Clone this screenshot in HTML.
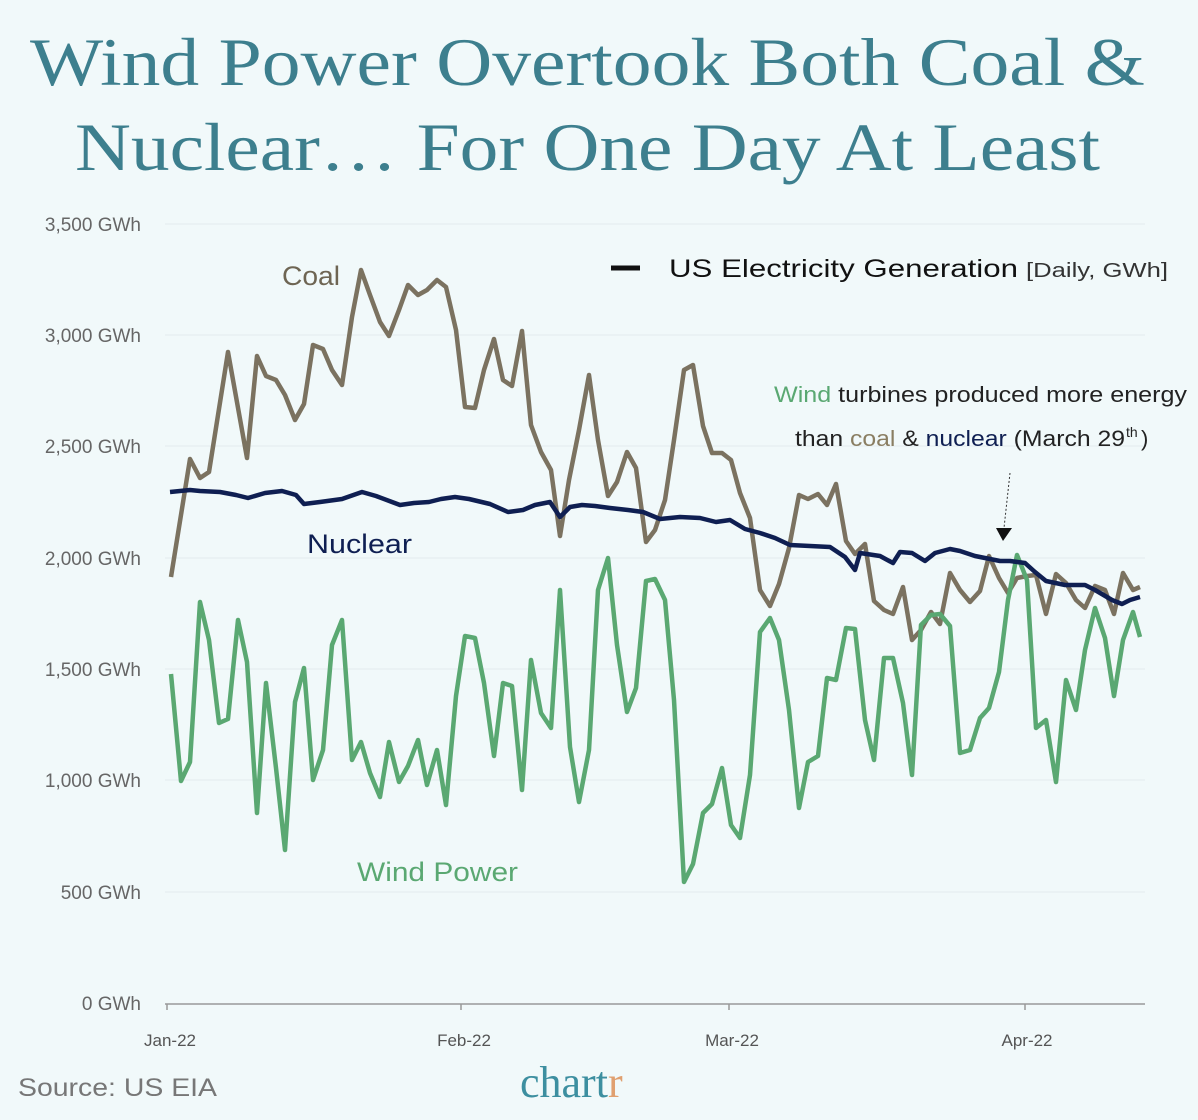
<!DOCTYPE html>
<html><head><meta charset="utf-8"><style>body{margin:0;background:#f1f9fa}svg{display:block}</style></head><body>
<svg width="1198" height="1120" xmlns="http://www.w3.org/2000/svg" font-family="Liberation Sans, sans-serif">
<rect width="1198" height="1120" fill="#f1f9fa"/>
<g font-family="Liberation Serif, serif" fill="#3d7f8e" font-size="68">
<text x="30" y="85" textLength="1115" lengthAdjust="spacingAndGlyphs">Wind Power Overtook Both Coal &amp;</text>
<text x="75" y="170" textLength="1025" lengthAdjust="spacingAndGlyphs">Nuclear… For One Day At Least</text>
</g>
<g stroke="#e3ecee" stroke-width="1">
<line x1="165" x2="1145" y1="224" y2="224"/><line x1="165" x2="1145" y1="335" y2="335"/><line x1="165" x2="1145" y1="446" y2="446"/><line x1="165" x2="1145" y1="558" y2="558"/><line x1="165" x2="1145" y1="669" y2="669"/><line x1="165" x2="1145" y1="780" y2="780"/><line x1="165" x2="1145" y1="892" y2="892"/>
</g>
<line x1="165" x2="1145" y1="1004" y2="1004" stroke="#999" stroke-width="1.5"/>
<g stroke="#999" stroke-width="1.5"><line x1="167" x2="167" y1="1004" y2="1010"/><line x1="461" x2="461" y1="1004" y2="1010"/><line x1="729" x2="729" y1="1004" y2="1010"/><line x1="1025" x2="1025" y1="1004" y2="1010"/></g>
<g fill="#666" font-size="19" text-anchor="end">
<text x="141" y="231">3,500 GWh</text><text x="141" y="342">3,000 GWh</text><text x="141" y="453">2,500 GWh</text><text x="141" y="565">2,000 GWh</text><text x="141" y="676">1,500 GWh</text><text x="141" y="787">1,000 GWh</text><text x="141" y="899">500 GWh</text><text x="141" y="1010">0 GWh</text>
</g>
<g fill="#555" font-size="17" text-anchor="middle"><text x="170" y="1046">Jan-22</text><text x="464" y="1046">Feb-22</text><text x="732" y="1046">Mar-22</text><text x="1027" y="1046">Apr-22</text></g>
<g fill="none" stroke-width="4.5" stroke-linejoin="round">
<polyline stroke="#7b7260" points="171,577 190,459 200,478 209,472 228,352 247,458 257,356 266,376 276,380 285,395 295,420 304,404 313,345 323,349 332,370 342,385 352,317 361,270 370,295 380,322 389,336 399,310 408,285 418,295 427,290 437,280 446,287 456,330 465,407 475,408 484,370 494,339 503,380 512,386 522,331 531,425 541,452 551,470 560,536 569,480 579,430 589,375 598,440 608,496 617,482 627,452 636,468 646,542 655,530 665,500 674,440 684,370 693,365 703,426 712,453 722,453 731,460 740,493 750,518 760,590 770,606 779,584 789,548 799,495 808,499 818,494 827,505 836,484 846,541 855,554 865,544 874,601 884,610 893,614 903,587 912,640 921,630 931,612 940,624 950,573 960,590 970,602 980,591 989,556 999,578 1008,593 1017,578 1027,576 1036,575 1046,614 1056,574 1066,583 1076,600 1085,608 1095,586 1105,590 1114,614 1123,573 1133,590 1140,587"/>
<polyline stroke="#5aa872" points="171,674 181,781 190,762 200,602 209,640 219,723 228,719 238,620 247,662 257,813 266,683 276,768 285,850 295,702 304,668 313,780 323,750 332,645 342,620 352,760 361,742 370,773 380,797 389,742 399,782 408,766 418,740 427,785 437,750 446,805 456,696 465,636 475,638 484,683 494,756 503,683 512,686 522,790 531,660 541,713 551,728 560,590 570,747 579,802 589,750 598,590 608,558 617,645 627,712 636,688 646,581 655,579 665,600 674,700 684,882 693,864 703,813 712,804 722,768 731,825 740,838 750,775 760,632 770,618 779,640 789,710 799,808 808,762 818,756 827,678 836,680 846,628 855,629 865,720 874,760 884,658 893,658 903,703 912,775 921,625 931,615 940,614 950,626 960,753 970,750 980,718 989,708 999,672 1008,600 1017,555 1027,580 1036,728 1046,720 1056,782 1066,680 1076,710 1085,650 1095,608 1105,638 1114,696 1123,640 1133,612 1140,637"/>
<polyline stroke="#0f1f52" points="170,492 190,490 200,491 220,492 236,495 248,498 265,493 282,491 296,495 304,504 320,502 342,499 362,492 376,496 392,502 400,505 414,503 429,502 441,499 455,497 469,499 490,504 508,512 523,510 535,505 550,502 560,517 570,507 582,505 595,506 610,508 628,510 643,512 660,519 680,517 700,518 716,522 730,520 745,529 760,533 775,538 790,545 810,546 830,547 845,557 855,570 860,553 880,556 893,563 900,552 912,553 925,561 935,553 950,549 960,551 975,556 990,559 1000,561 1010,561 1025,563 1035,572 1046,581 1065,585 1085,585 1095,590 1112,600 1122,604 1130,600 1140,597"/>
</g>
<text x="282" y="285" font-size="27" fill="#6e6553" textLength="58" lengthAdjust="spacingAndGlyphs">Coal</text>
<text x="307" y="553" font-size="27" fill="#0f1f52" textLength="105" lengthAdjust="spacingAndGlyphs">Nuclear</text>
<text x="357" y="881" font-size="27" fill="#5aa872" textLength="161" lengthAdjust="spacingAndGlyphs">Wind Power</text>
<line x1="611" x2="640" y1="268" y2="268" stroke="#111" stroke-width="5"/>
<text x="669" y="277" font-size="25" fill="#111" textLength="349" lengthAdjust="spacingAndGlyphs">US Electricity Generation</text>
<text x="1026" y="277" font-size="20" fill="#333" textLength="142" lengthAdjust="spacingAndGlyphs">[Daily, GWh]</text>
<text x="774" y="402" font-size="22" fill="#222" textLength="413" lengthAdjust="spacingAndGlyphs"><tspan fill="#5aa872">Wind</tspan> turbines produced more energy</text>
<text x="795" y="446" font-size="22" fill="#222" textLength="330" lengthAdjust="spacingAndGlyphs">than <tspan fill="#8a7e62">coal</tspan> &amp; <tspan fill="#0f1f52">nuclear</tspan> (March 29</text>
<text x="1126" y="437" font-size="14" fill="#222">th</text>
<text x="1141" y="446" font-size="22" fill="#222">)</text>
<line x1="1010" y1="473" x2="1004" y2="528" stroke="#333" stroke-width="1" stroke-dasharray="2,2"/>
<polygon points="996,528 1012,528 1003,541" fill="#111"/>
<text x="18" y="1096" font-size="25" fill="#777" textLength="199" lengthAdjust="spacingAndGlyphs">Source: US EIA</text>
<text x="520" y="1097" font-size="44" font-family="Liberation Serif, serif" fill="#3d8fa0">chart<tspan fill="#e0a070">r</tspan></text>
</svg>
</body></html>
